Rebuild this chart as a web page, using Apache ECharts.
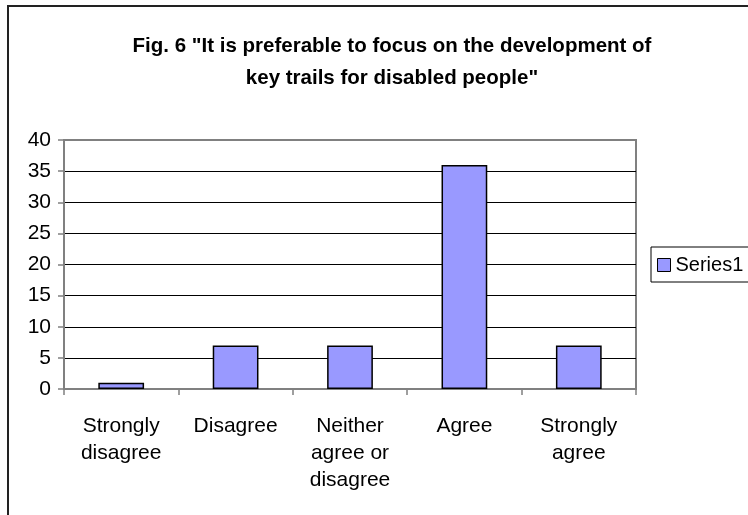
<!DOCTYPE html>
<html>
<head>
<meta charset="utf-8">
<script src="https://cdn.jsdelivr.net/npm/echarts@6/dist/echarts.min.js"></script>
<style>
  html, body { margin: 0; padding: 0; background: #fff; }
  #chart { width: 748px; height: 515px; }
</style>
</head>
<body>
<div id="chart"></div>
<script>
// Survey responses: number of respondents per answer
const categories = ['Strongly\ndisagree', 'Disagree', 'Neither\nagree or\ndisagree', 'Agree', 'Strongly\nagree'];
const series1 = [1, 7, 7, 36, 7];
const yTicks = { min: 0, max: 40, interval: 5 };
const titleText = 'Fig. 6 "It is preferable to focus on the development of\nkey trails for disabled people"';

const FONT = '"Liberation Sans", Arial, sans-serif';

const chart = echarts.init(document.getElementById('chart'), null, { renderer: 'canvas' });

// Grid lines: the outermost ones share the grey plot-area frame
const nLines = (yTicks.max - yTicks.min) / yTicks.interval + 1;
const splitColors = [];
for (let i = 0; i < nLines; i++) {
  splitColors.push(i === 0 || i === nLines - 1 ? '#808080' : '#000000');
}

chart.setOption({
  animation: false,
  backgroundColor: '#ffffff',
  title: {
    text: titleText,
    left: 387,
    textAlign: 'center',
    top: 25,
    textStyle: {
      fontFamily: FONT,
      fontWeight: 'bold',
      fontSize: 20.5,
      lineHeight: 32,
      color: '#000'
    }
  },
  legend: {
    left: 651,
    top: 247,
    orient: 'vertical',
    padding: [8, 6, 7, 6],
    borderColor: '#000',
    borderWidth: 1,
    itemWidth: 13,
    itemHeight: 13,
    itemGap: 0,
    textStyle: { fontFamily: FONT, fontSize: 20, color: '#000', padding: [0, 0, 0, 0] },
    data: [{ name: 'Series1', icon: 'rect', itemStyle: { borderColor: '#000', borderWidth: 1 } }]
  },
  grid: {
    left: 64,
    right: 112,
    top: 140,
    bottom: 126,
    show: true,
    borderColor: '#808080',
    borderWidth: 2,
    backgroundColor: '#ffffff'
  },
  xAxis: {
    type: 'category',
    data: categories,
    axisLine: { lineStyle: { color: '#808080', width: 1.5 } },
    axisTick: { show: true, length: 6, lineStyle: { color: '#808080', width: 1.5 } },
    axisLabel: {
      margin: 24,
      interval: 0,
      fontFamily: FONT,
      fontSize: 21,
      lineHeight: 27,
      color: '#000'
    }
  },
  yAxis: {
    type: 'value',
    min: yTicks.min,
    max: yTicks.max,
    interval: yTicks.interval,
    axisLine: { show: true, lineStyle: { color: '#808080', width: 2 } },
    axisTick: { show: true, length: 6, lineStyle: { color: '#808080', width: 1.5 } },
    axisLabel: { margin: 13, fontFamily: FONT, fontSize: 21, color: '#000' },
    splitLine: { show: true, lineStyle: { color: splitColors, width: 1 } }
  },
  series: [{
    name: 'Series1',
    type: 'bar',
    data: series1,
    barCategoryGap: '60%',
    itemStyle: { color: '#9999FF', borderColor: '#000', borderWidth: 1.5 }
  }],
  graphic: [{
    type: 'rect',
    silent: true,
    z: 100,
    shape: { x: 8, y: 6, width: 800, height: 600 },
    style: { fill: 'none', stroke: '#222', lineWidth: 2 }
  }]
});
</script>
</body>
</html>
